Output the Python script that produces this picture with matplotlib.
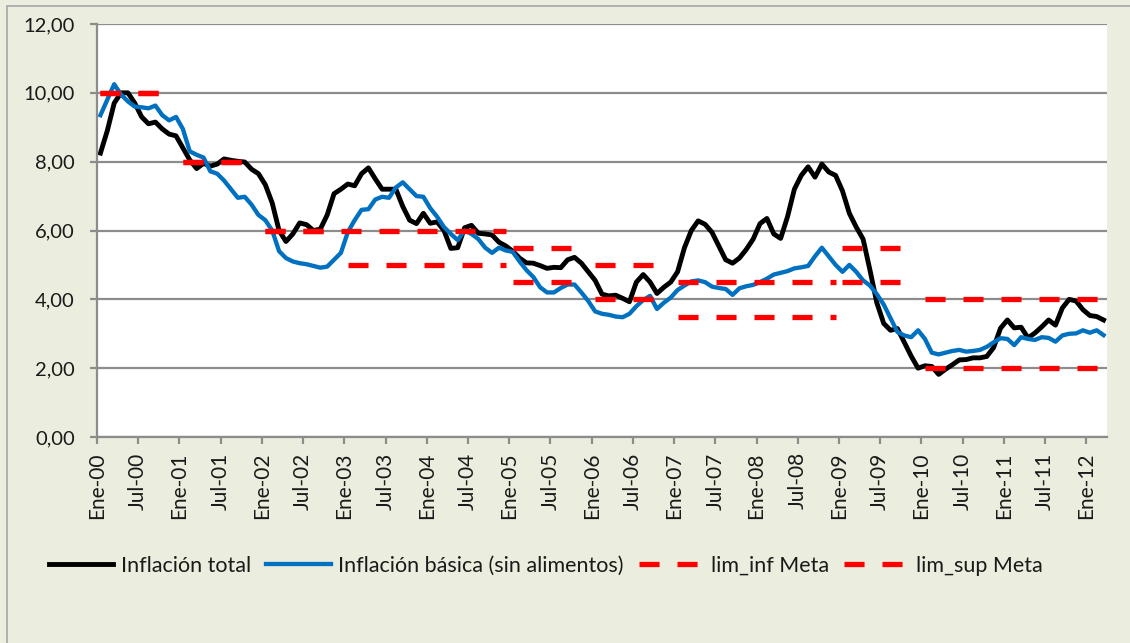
import numpy as np
import matplotlib
matplotlib.use("Agg")
import matplotlib.pyplot as plt
from matplotlib.patches import Rectangle
from matplotlib.ticker import FuncFormatter

plt.rcParams['font.family'] = ['Lato', 'DejaVu Sans']

# mensual, Ene-00 .. Mar-12
inflacion_total = [
    8.25, 8.9, 9.7, 10.0, 10.0, 9.7, 9.3, 9.1, 9.15, 8.95, 8.8, 8.75,
    8.4, 8.05, 7.8, 7.95, 7.87, 7.93, 8.08, 8.04, 8.01, 7.99, 7.78, 7.65,
    7.33, 6.8, 6.0, 5.68, 5.9, 6.22, 6.17, 6.0, 6.04, 6.45, 7.07, 7.2,
    7.35, 7.3, 7.65, 7.82, 7.5, 7.2, 7.2, 7.2, 6.7, 6.3, 6.2, 6.5,
    6.21, 6.25, 6.0, 5.48, 5.5, 6.08, 6.15, 5.92, 5.9, 5.87, 5.66, 5.55,
    5.4, 5.2, 5.06, 5.05, 4.98, 4.9, 4.93, 4.92, 5.15, 5.22, 5.05, 4.8,
    4.55, 4.15, 4.1, 4.12, 4.03, 3.93, 4.5, 4.72, 4.5, 4.17, 4.35, 4.5,
    4.8, 5.5, 6.0, 6.28, 6.18, 5.95, 5.55, 5.15, 5.05, 5.2, 5.45, 5.75,
    6.2, 6.35, 5.9, 5.77, 6.4, 7.2, 7.6, 7.85, 7.55, 7.93, 7.7, 7.6,
    7.15, 6.5, 6.1, 5.75, 4.85, 3.9, 3.3, 3.1, 3.15, 2.75, 2.35, 2.0,
    2.07, 2.05, 1.82, 1.97, 2.1, 2.24, 2.25, 2.3, 2.3, 2.34, 2.6, 3.16,
    3.4, 3.17, 3.19, 2.88, 3.02, 3.2, 3.4, 3.25, 3.75, 4.0, 3.95, 3.7,
    3.53, 3.5, 3.4,
]
inflacion_basica = [
    9.35, 9.8, 10.25, 9.95, 9.75, 9.6, 9.58, 9.55, 9.63, 9.35, 9.2, 9.3,
    8.95, 8.3, 8.2, 8.12, 7.72, 7.65, 7.45, 7.2, 6.95, 6.98, 6.75, 6.45,
    6.3, 6.0, 5.4, 5.2, 5.1, 5.05, 5.02, 4.97, 4.92, 4.95, 5.15, 5.35,
    5.95, 6.3, 6.6, 6.62, 6.9, 6.98, 6.95, 7.25, 7.4, 7.2, 7.0, 6.98,
    6.65, 6.4, 6.1, 5.9, 5.72, 6.0, 5.9, 5.75, 5.5, 5.35, 5.5, 5.42,
    5.38, 5.1, 4.85, 4.65, 4.35, 4.2, 4.2, 4.33, 4.43, 4.43, 4.2, 3.95,
    3.65, 3.58, 3.55, 3.5, 3.48, 3.58, 3.8, 3.98, 4.1, 3.72, 3.9, 4.05,
    4.27, 4.4, 4.52, 4.55, 4.5, 4.37, 4.33, 4.3, 4.13, 4.32, 4.38, 4.42,
    4.5, 4.6, 4.72, 4.77, 4.82, 4.9, 4.93, 4.97, 5.25, 5.5, 5.25, 5.0,
    4.8, 5.0, 4.8, 4.55, 4.4, 4.15, 3.85, 3.45, 3.05, 2.95, 2.9, 3.1,
    2.85, 2.45, 2.4, 2.45, 2.5, 2.53, 2.48, 2.5, 2.53, 2.62, 2.75, 2.87,
    2.85, 2.67, 2.9, 2.85, 2.82, 2.9, 2.88, 2.77, 2.95, 3.0, 3.01, 3.1,
    3.03, 3.1, 2.96,
]

# meta anual
anios = list(range(2000, 2013))
meta_inf = [10, 8, 6, 5, 5, 4.5, 4, 3.5, 3.5, 4.5, 2, 2, 2]
meta_sup = [10, 8, 6, 6, 6, 5.5, 5, 4.5, 4.5, 5.5, 4, 4, 4]

n = len(inflacion_total)
x = np.arange(n) + 0.5
lim_inf = [meta_inf[i // 12] for i in range(n)]
lim_sup = [meta_sup[i // 12] for i in range(n)]

tick_pos = list(range(0, n, 6))
tick_labels = [("Ene-" if k % 12 == 0 else "Jul-") + "%02d" % ((anios[0] + k // 12) % 100)
               for k in tick_pos]

bg = '#EBEEDE'
fig = plt.figure(figsize=(11.3, 6.43), dpi=100, facecolor=bg)
fig.patches.append(Rectangle((7 / 1130, -0.05), 1.1, 1 - 6 / 643 + 0.05,
                             transform=fig.transFigure, fill=False,
                             edgecolor='#A6A6A6', lw=1.2))
ax = fig.add_axes([97 / 1130, 1 - 437 / 643, 1010 / 1130, 413 / 643])
ax.set_facecolor('white')

ax.plot(x, inflacion_total, color='black', lw=3.5, label='Inflación total',
        solid_joinstyle='round')
ax.plot(x, inflacion_basica, color='#0070C0', lw=3.1,
        label='Inflación básica (sin alimentos)', solid_joinstyle='round')


def runs(vals):
    s = 0
    for k in range(1, len(vals) + 1):
        if k == len(vals) or vals[k] != vals[s]:
            yield s, k
            s = k


for serie, nombre in [(lim_inf, 'lim_inf Meta'), (lim_sup, 'lim_sup Meta')]:
    first = True
    for s, e in runs(serie):
        ax.plot(x[s:e], serie[s:e], color='#FF0000', lw=3.8, dashes=(3.8, 3.4),
                label=nombre if first else None)
        first = False

ax.set_xlim(0, n)
ax.set_ylim(0, 12)
ax.set_yticks(np.arange(0, 13, 2))
ax.yaxis.set_major_formatter(FuncFormatter(lambda v, p: ('%.2f' % v).replace('.', ',')))
ax.set_xticks(tick_pos)
ax.set_xticklabels(tick_labels, rotation=90)
ax.grid(axis='y', color='#8C8C8C', lw=1.6)
ax.set_axisbelow(True)
for sp in ['top', 'right']:
    ax.spines[sp].set_visible(False)
for sp in ['left', 'bottom']:
    ax.spines[sp].set_color('#8C8C8C')
    ax.spines[sp].set_linewidth(1.6)
ax.tick_params(axis='both', colors='#8C8C8C', width=1.6, length=5,
               labelcolor='#1A1A1A')
ax.tick_params(axis='y', labelsize=14.5, pad=11)
ax.tick_params(axis='x', labelsize=15, pad=6)

fig.legend(loc='center', bbox_to_anchor=(0.483, 1 - 566 / 643), ncol=4,
           frameon=False, fontsize=15.5, handlelength=3.0, handletextpad=0.35,
           columnspacing=0.7, labelcolor='#1A1A1A')

fig.savefig('out.png', dpi=100, facecolor=bg)
